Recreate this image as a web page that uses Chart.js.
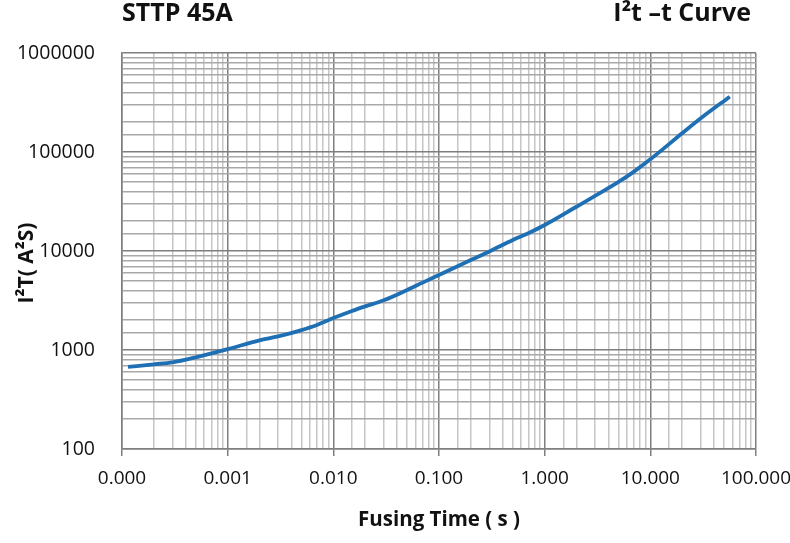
<!DOCTYPE html>
<html>
<head>
<meta charset="utf-8">
<script src="https://cdn.jsdelivr.net/npm/chart.js@4/dist/chart.umd.min.js"></script>
<style>
html,body{margin:0;padding:0;background:#fff;}
#wrap{width:790px;height:543px;position:relative;}
</style>
</head>
<body>
<div id="wrap"><canvas id="c" width="790" height="543"></canvas></div>
<script>
const fusingTime = [0.000114, 0.0002, 0.0003, 0.0005, 0.001, 0.002, 0.003, 0.005, 0.007, 0.01, 0.015, 0.02, 0.03, 0.05, 0.07, 0.1, 0.2, 0.3, 0.5, 0.7, 1, 2, 3, 5, 7, 10, 20, 30, 56.5];
const i2tValues = [675, 717, 750, 844, 1020, 1250, 1370, 1590, 1790, 2100, 2480, 2760, 3180, 4040, 4790, 5730, 8110, 9900, 12900, 15100, 18300, 28000, 36000, 49800, 63400, 84300, 154500, 219000, 362000];
const xTickLabelsAt = [0.0001, 0.001, 0.01, 0.1, 1, 10, 100];
const yTickLabelsAt = [100, 1000, 10000, 100000, 1000000];
const chartTitle = "STTP 45A";
const chartSubtitle = "I\u00b2t \u2013t Curve";
const xTitle = "Fusing Time ( s )";
const yTitle = "I\u00b2T( A\u00b2S)";

const FONT = "'Open Sans', 'Noto Sans', sans-serif";
const isDecade = v => Math.abs(Math.log10(v) - Math.round(Math.log10(v))) < 1e-6;

const textPlugin = {
  id: 'texts',
  afterDraw(chart) {
    const ctx = chart.ctx;
    ctx.save();
    ctx.fillStyle = '#111';
    ctx.textBaseline = 'middle';
    ctx.font = "bold 25px " + FONT;
    ctx.textAlign = 'left';
    ctx.fillText(chartTitle, 122, 14);
    ctx.textAlign = 'right';
    ctx.fillText(chartSubtitle, 751, 14);
    ctx.font = "bold 20.5px " + FONT;
    ctx.textAlign = 'center';
    ctx.fillText(xTitle, 439, 520);
    ctx.translate(27, 263);
    ctx.rotate(-Math.PI / 2);
    ctx.font = "bold 21px " + FONT;
    ctx.fillText(yTitle, 0, 0);
    ctx.restore();
  }
};

function noPad(s) { s.paddingLeft = 0; s.paddingRight = 0; s.paddingTop = 0; s.paddingBottom = 0; }

new Chart(document.getElementById('c'), {
  type: 'line',
  data: {
    datasets: [{
      data: fusingTime.map((t, i) => ({x: t, y: i2tValues[i]})),
      borderColor: '#1f6fb4',
      borderWidth: 3.8,
      pointRadius: 0,
      fill: false,
      cubicInterpolationMode: 'monotone'
    }]
  },
  options: {
    responsive: false,
    animation: false,
    layout: {padding: {left: 0, right: 34, top: 53, bottom: 0}},
    plugins: {legend: {display: false}, tooltip: {enabled: false}},
    scales: {
      x: {
        type: 'logarithmic',
        min: 0.0001,
        max: 100,
        afterFit(s) { s.height = 94; noPad(s); },
        border: {display: true, color: '#7f7f7f', width: 1.5},
        grid: {
          color: c => isDecade(c.tick.value) ? '#7f7f7f' : '#c6c6c6',
          lineWidth: 1.5,
          tickColor: c => isDecade(c.tick.value) ? '#7f7f7f' : 'rgba(0,0,0,0)',
          tickLength: 7
        },
        ticks: {
          autoSkip: false,
          maxRotation: 0,
          padding: 11,
          color: '#111',
          font: {family: FONT, size: 19},
          callback: v => (isDecade(v) && xTickLabelsAt.some(t => Math.abs(t - v) / t < 1e-6)) ? Number(v).toFixed(3) : ''
        }
      },
      y: {
        type: 'logarithmic',
        min: 100,
        max: 1000000,
        afterFit(s) { s.width = 122; noPad(s); },
        border: {display: true, color: '#7f7f7f', width: 1.5},
        grid: {
          color: c => isDecade(c.tick.value) ? '#7f7f7f' : '#a8a8a8',
          lineWidth: 1.5,
          drawTicks: false
        },
        ticks: {
          autoSkip: false,
          padding: 27,
          color: '#111',
          font: {family: FONT, size: 19.5},
          callback: v => (isDecade(v) && yTickLabelsAt.some(t => Math.abs(t - v) / t < 1e-6)) ? String(Math.round(v)) : ''
        }
      }
    }
  },
  plugins: [textPlugin]
});
</script>
</body>
</html>
